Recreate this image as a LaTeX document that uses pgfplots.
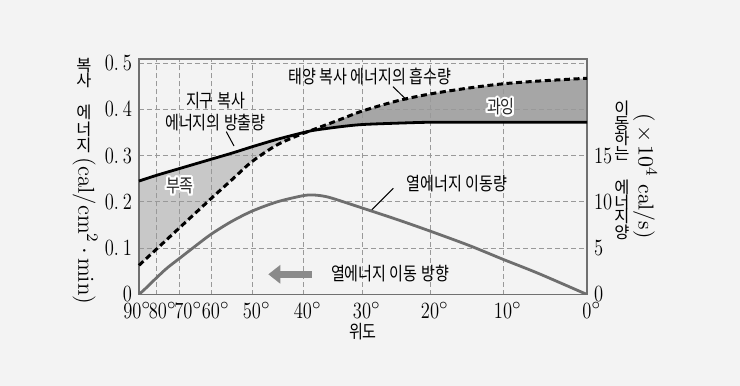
\documentclass[border=0pt]{standalone}
\usepackage{fontspec}
\usepackage{pgfplots}
\usepackage{pgfplotstable}
\pgfplotsset{compat=1.18}
\usepgfplotslibrary{fillbetween}
\usetikzlibrary{arrows.meta}
\usepackage[copies]{contour}
\contourlength{1.0pt}
\contournumber{24}
\newfontfamily\kr[FakeStretch=0.82]{Noto Sans CJK KR}
\newfontfamily\krn{Noto Sans CJK KR}
\newfontfamily\numf[FakeStretch=0.8]{Latin Modern Roman}
\newcommand\krf{\kr\fontsize{9.2}{11}\selectfont}
\newcommand\krv{\krn\fontsize{8.2}{10}\selectfont}
\newcommand\tickf{\numf\fontsize{11.6}{12}\selectfont}
\newcommand\dg{\rlap{$^{\circ}$}}
\definecolor{bgc}{HTML}{F3F3F3}
\definecolor{gridc}{HTML}{999999}
\definecolor{framec}{HTML}{707070}
\definecolor{lightfill}{HTML}{C8C8C8}
\definecolor{darkfill}{HTML}{A6A6A6}
\definecolor{heatc}{HTML}{6E6E6E}
\definecolor{arrowc}{HTML}{8A8A8A}
\tikzset{fill between/on layer=main,
  vch/.style={font=\krv, inner sep=0pt, text height=6.9pt, text depth=0.6pt, anchor=center}}

\pgfplotstableread{
u     out    abs
0     0.245  0.063
17    0.257  0.097
40.5  0.272  0.144
72    0.292  0.207
94    0.306  0.250
113   0.319  0.287
138   0.335  0.323
163   0.349  0.347
173   0.354  0.355
200   0.362  0.377
223   0.367  0.396
258   0.370  0.418
291   0.372  0.433
330   0.372  0.446
364   0.372  0.455
400   0.372  0.461
448   0.372  0.467
}\energy

\pgfplotstableread{
u     v
0     0
8     0.8
17    1.75
28    2.85
40.5  3.9
56    5.2
72    6.5
92    7.85
113   9.0
138   10.0
163   10.65
173   10.75
183   10.65
193   10.4
223   9.35
258   8.1
291   6.85
330   5.3
364   3.8
400   2.25
448   0
}\heat

\pgfplotsset{
  base/.style={at={(0,0)}, anchor=south west, scale only axis,
    width=224pt, height=117.75pt, xmin=0, xmax=448},
}

\begin{document}
\begin{tikzpicture}
\fill[bgc] (-69.5pt,-45.75pt) rectangle (300.5pt,147.25pt);

% fills
\begin{axis}[base, ymin=0, ymax=0.5086, hide axis]
\addplot[name path=outA, draw=none, smooth] table[x=u,y=out]{\energy};
\addplot[name path=absA, draw=none, smooth] table[x=u,y=abs]{\energy};
\addplot[fill=lightfill, draw=none] fill between[of=outA and absA, soft clip={domain=0:173}];
\addplot[fill=darkfill, draw=none] fill between[of=outA and absA, soft clip={domain=173:448}];
\end{axis}

% main axis
\begin{axis}[base, ymin=0, ymax=0.5086, clip=false,
  xtick={0,17,40.5,72,113,164,223,291,364,448},
  xticklabels={90\dg\kern6.5pt,\kern2pt 80\dg,\kern4pt 70\dg,60\dg,50\dg,40\dg,30\dg,20\dg,10\dg,0\dg},
  ytick={0,0.1,0.2,0.3,0.4,0.5},
  yticklabels={0,0.\,1,0.\,2,0.\,3,0.\,4,0.\,5},
  major tick length=0,
  grid=major,
  major grid style={draw=gridc, line width=0.45pt, dash pattern=on 2.5pt off 1.5pt},
  axis line style={draw=framec, line width=0.8pt},
  tick label style={font=\tickf},
  xticklabel style={yshift=-0.5pt},
]
\addplot[black, line width=1.4pt, smooth] table[x=u,y=out]{\energy};
\addplot[black, line width=1.5pt, smooth, dash pattern=on 3pt off 1.8pt] table[x=u,y=abs]{\energy};

\node[font=\krf, align=center] at (axis cs:76.5,0.396) {지구 복사\\에너지의 방출량};
\draw[line width=0.5pt] (axis cs:87.3,0.3516) -- (axis cs:95,0.3207);
\node[font=\krf] at (axis cs:231,0.4704) {태양 복사 에너지의 흡수량};
\draw[line width=0.5pt] (axis cs:254,0.4488) -- (axis cs:267.7,0.420);
\node[font=\krf, text=black!85] at (axis cs:41,0.232) {\contour{white}{부족}};
\node[font=\krf, text=black!85] at (axis cs:362,0.4028) {\contour{white}{과잉}};
\node[font=\krf] at (axis cs:318,0.2387) {열에너지 이동량};
\draw[line width=0.5pt] (axis cs:254.3,0.2294) -- (axis cs:232.7,0.1825);
\draw[arrowc, line width=3.5pt, -{Triangle[length=6pt,width=9pt]}] (axis cs:172.7,0.0436) -- (axis cs:129.3,0.0436);
\node[font=\krf] at (axis cs:251,0.0443) {열에너지 이동 방향};
\end{axis}

% right axis
\begin{axis}[base, ymin=0, ymax=25.43,
  axis x line=none, axis y line*=right,
  axis line style={draw=none},
  ytick={0,5,10,15},
  yticklabels={0,5,10,15},
  major tick length=0,
  tick label style={font=\tickf},
]
\addplot[heatc, line width=1.4pt, smooth] table[x=u,y=v]{\heat};
\end{axis}

% axis titles
\node[font=\krf] at (112pt,-18.6pt) {위도};
\node[vch] at (-27.5pt,114.75pt) {복};
\node[vch] at (-27.5pt,107pt) {사};
\node[vch] at (-27.5pt,91pt) {에};
\node[vch] at (-27.5pt,82.75pt) {너};
\node[vch] at (-27.5pt,74.75pt) {지};
\node[rotate=-90, font=\fontsize{11.5}{12}\selectfont] at (-27pt,31.75pt) {(cal/cm$^{2}\,\cdot\,$min)};

\node[vch] at (241.5pt,93pt) {이};
\node[vch] at (241.5pt,85.5pt) {동};
\node[vch] at (241.5pt,78pt) {하};
\node[vch] at (241.5pt,70.5pt) {는};
\node[vch] at (241.5pt,53.5pt) {에};
\node[vch] at (241.5pt,46pt) {너};
\node[vch] at (241.5pt,39pt) {지};
\node[vch] at (241.5pt,31pt) {양};
\node[rotate=-90, font=\fontsize{10.8}{12}\selectfont] at (253pt,59.25pt) {(\,$\times\,10^{4}$ cal/s)};
\end{tikzpicture}
\end{document}
